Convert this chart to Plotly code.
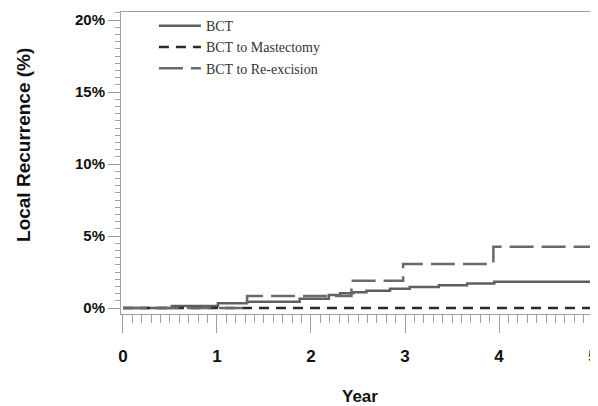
import plotly.graph_objects as go

# Data (years, cumulative local recurrence %)
bct_years = [0, 0.52, 1.01, 1.32, 1.88, 2.19, 2.31, 2.45, 2.59, 2.84, 3.05, 3.36, 3.66, 3.95, 5.0]
bct_pct = [0, 0.14, 0.33, 0.44, 0.65, 0.9, 1.02, 1.1, 1.2, 1.33, 1.45, 1.58, 1.7, 1.82, 1.82]

mast_years = [0, 5.0]
mast_pct = [0, 0]

reex_years = [0, 1.32, 2.43, 2.98, 3.94, 5.0]
reex_pct = [0, 0.83, 1.9, 3.06, 4.26, 4.26]

series_names = ["BCT", "BCT to Mastectomy", "BCT to Re-excision"]
x_ticks = [0, 1, 2, 3, 4, 5]
y_ticks = [0, 5, 10, 15, 20]
y_tick_labels = ["0%", "5%", "10%", "15%", "20%"]

fig = go.Figure()
fig.add_trace(go.Scatter(x=bct_years, y=bct_pct, mode="lines", name=series_names[0],
                         line=dict(color="#5f5f5f", width=2.5, shape="hv")))
fig.add_trace(go.Scatter(x=mast_years, y=mast_pct, mode="lines", name=series_names[1],
                         line=dict(color="#2a2a2a", width=2.5, dash="10px,7px", shape="hv")))
fig.add_trace(go.Scatter(x=reex_years, y=reex_pct, mode="lines", name=series_names[2],
                         line=dict(color="#6a6a6a", width=2.5, dash="24px,8px", shape="hv")))

axis_col = "#a0a0a0"
fig.update_layout(
    width=598, height=406,
    margin=dict(l=113, r=8, t=4, b=100, autoexpand=False),
    plot_bgcolor="white", paper_bgcolor="white",
    showlegend=True,
    legend=dict(x=0.069, y=1.006, xanchor="left", yanchor="top",
                bgcolor="rgba(0,0,0,0)", tracegroupgap=0, itemwidth=42,
                font=dict(family="Liberation Serif", size=14, color="#333")),
    xaxis=dict(range=[-0.021, 5.053], tickvals=x_ticks, ticks="outside", ticklen=18,
               ticklabelstandoff=9,
               tickcolor=axis_col, showline=True, linecolor=axis_col, mirror=True,
               showgrid=False, zeroline=False, automargin=False,
               tickfont=dict(family="Liberation Sans", size=17, color="#111", weight="bold"),
               minor=dict(dtick=0.1, ticks="outside", ticklen=8, tickcolor=axis_col, showgrid=False)),
    yaxis=dict(range=[-0.417, 20.56], tickvals=y_ticks, ticktext=y_tick_labels,
               ticks="outside", ticklen=12, tickcolor=axis_col, showline=True,
               linecolor=axis_col, mirror=True, showgrid=False, zeroline=False, automargin=False,
               tickfont=dict(family="Liberation Sans", size=15, color="#111", weight="bold"),
               minor=dict(dtick=0.5, ticks="outside", ticklen=5, tickcolor=axis_col, showgrid=False)),
    annotations=[
        dict(text="Local Recurrence (%)", xref="paper", yref="paper",
             x=-0.2055, y=0.5596, xanchor="center", yanchor="middle",
             textangle=-90, showarrow=False,
             font=dict(family="Liberation Sans", size=19, color="#111", weight="bold")),
        dict(text="Year", xref="paper", yref="paper", x=0.501, y=-0.272,
             xanchor="center", yanchor="middle", showarrow=False,
             font=dict(family="Liberation Sans", size=17, color="#111", weight="bold")),
    ],
)

fig.write_html("out.html")
